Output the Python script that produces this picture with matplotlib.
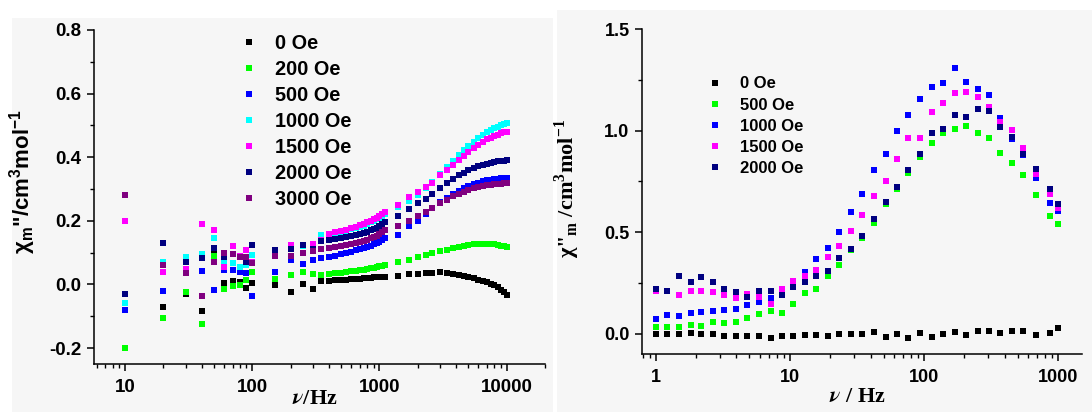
import numpy as np
import matplotlib
matplotlib.use('Agg')
import matplotlib.pyplot as plt
from matplotlib.patches import Rectangle
from matplotlib.lines import Line2D
from matplotlib.ticker import FixedLocator, FixedFormatter, LogLocator, MultipleLocator, FormatStrFormatter, NullFormatter

plt.rcParams['font.family'] = ['Liberation Sans', 'DejaVu Sans']
plt.rcParams['font.weight'] = 'bold'
plt.rcParams['axes.unicode_minus'] = False

# ---------------- Left panel data ----------------
freq_left = [10, 20, 30, 40, 50, 60, 70, 80, 90, 100,
             150, 200, 250, 300,
             350, 400, 450, 500, 550, 600, 650, 700, 750, 800, 850, 900, 950, 1000, 1050, 1100,
             1400, 1700, 2000, 2300, 2600, 3000, 3400, 3800, 4200, 4600, 5000, 5500, 6000, 6500,
             7000, 7500, 8000, 8500, 9000, 9500, 10000]

chi_0 = [-0.030, -0.072, -0.030, -0.082, 0.100, 0.006, 0.010, 0.007, -0.010, 0.004,
         -0.003, -0.025, 0.000, -0.015,
         0.010, 0.012, 0.013, 0.014, 0.015, 0.016, 0.017, 0.018, 0.019, 0.020, 0.021, 0.022, 0.022, 0.023, 0.024, 0.025,
         0.028, 0.032, 0.034, 0.036, 0.037, 0.038, 0.036, 0.034, 0.031, 0.028, 0.024, 0.020, 0.015, 0.011,
         0.007, 0.003, -0.003, -0.009, -0.016, -0.024, -0.032]
chi_200 = [-0.200, -0.104, -0.025, -0.125, 0.088, -0.013, -0.004, -0.003, 0.015, 0.040,
           0.016, 0.030, 0.040, 0.032,
           0.030, 0.033, 0.035, 0.037, 0.039, 0.041, 0.043, 0.045, 0.047, 0.049, 0.051, 0.053, 0.055, 0.057, 0.058, 0.060,
           0.070, 0.078, 0.085, 0.092, 0.098, 0.104, 0.109, 0.114, 0.118, 0.121, 0.124, 0.126, 0.128, 0.128,
           0.128, 0.127, 0.126, 0.124, 0.122, 0.120, 0.118]
chi_500 = [-0.080, -0.022, 0.050, 0.042, -0.016, 0.045, 0.045, 0.038, 0.035, -0.035,
           0.038, 0.078, 0.063, 0.076,
           0.082, 0.087, 0.091, 0.095, 0.099, 0.103, 0.107, 0.110, 0.114, 0.118, 0.122, 0.126, 0.130, 0.134, 0.139, 0.145,
           0.157, 0.183, 0.200, 0.222, 0.240, 0.258, 0.272, 0.284, 0.295, 0.303, 0.309, 0.315, 0.320, 0.324,
           0.327, 0.329, 0.331, 0.333, 0.334, 0.335, 0.336]
chi_1000 = [-0.057, 0.072, 0.085, 0.097, 0.145, 0.075, 0.066, 0.055, 0.060, 0.094,
            0.100, 0.120, 0.120, 0.125,
            0.157, 0.158, 0.161, 0.165, 0.169, 0.173, 0.177, 0.181, 0.185, 0.190, 0.195, 0.200, 0.205, 0.210, 0.216, 0.222,
            0.245, 0.262, 0.282, 0.302, 0.322, 0.347, 0.368, 0.388, 0.407, 0.422, 0.435, 0.449, 0.460, 0.470,
            0.478, 0.485, 0.491, 0.496, 0.500, 0.504, 0.507]
chi_1500 = [0.200, 0.040, 0.050, 0.190, 0.170, 0.056, 0.122, 0.090, 0.107, 0.070,
            0.105, 0.123, 0.125, 0.128,
            0.140, 0.160, 0.164, 0.168, 0.172, 0.177, 0.182, 0.186, 0.190, 0.195, 0.200, 0.205, 0.210, 0.215, 0.221, 0.227,
            0.250, 0.275, 0.290, 0.305, 0.320, 0.343, 0.360, 0.377, 0.392, 0.405, 0.417, 0.430, 0.440, 0.449,
            0.456, 0.462, 0.467, 0.471, 0.475, 0.478, 0.480]
chi_2000 = [-0.030, 0.130, 0.070, 0.082, 0.115, 0.085, 0.095, 0.085, 0.070, 0.123,
            0.108, 0.110, 0.123, 0.110,
            0.136, 0.139, 0.142, 0.145, 0.149, 0.152, 0.155, 0.158, 0.162, 0.166, 0.170, 0.174, 0.178, 0.183, 0.189, 0.195,
            0.216, 0.238, 0.255, 0.270, 0.285, 0.303, 0.318, 0.331, 0.343, 0.352, 0.360, 0.367, 0.372, 0.377,
            0.380, 0.383, 0.385, 0.387, 0.388, 0.389, 0.390]
chi_3000 = [0.280, 0.060, 0.035, -0.035, 0.070, 0.100, 0.097, 0.087, 0.086, 0.066,
            0.090, 0.090, 0.100, 0.105,
            0.113, 0.116, 0.119, 0.122, 0.125, 0.128, 0.131, 0.134, 0.137, 0.141, 0.145, 0.149, 0.153, 0.158, 0.164, 0.170,
            0.185, 0.200, 0.215, 0.228, 0.240, 0.255, 0.267, 0.277, 0.286, 0.292, 0.298, 0.303, 0.307, 0.310,
            0.312, 0.314, 0.315, 0.316, 0.317, 0.318, 0.318]

left_labels = ['0 Oe', '200 Oe', '500 Oe', '1000 Oe', '1500 Oe', '2000 Oe', '3000 Oe']
left_series = [chi_0, chi_200, chi_500, chi_1000, chi_1500, chi_2000, chi_3000]
left_colors = ['#000000', '#00ff00', '#0000ff', '#00ffff', '#ff00ff', '#000080', '#800080']
left_xticks = [10, 100, 1000, 10000]
left_xticklabels = ['10', '100', '1000', '10000']
left_yticks = [-0.2, 0.0, 0.2, 0.4, 0.6, 0.8]

# ---------------- Right panel data ----------------
freq_right = [1.0, 1.22, 1.48, 1.82, 2.19, 2.68, 3.24, 3.95, 4.83, 5.9, 7.18, 8.77,
              10.6, 12.9, 15.8, 19.3, 23.3, 28.5, 34.8, 42.4, 51.8, 63.2, 76.4, 93.3,
              114, 138, 170, 206, 252, 305, 372, 456, 551, 682, 871, 1000]

r_0 = [0.0, 0.0, -0.002, 0.003, -0.002, -0.002, -0.01, -0.01, -0.01, -0.01, -0.02, -0.01,
       -0.011, -0.007, -0.005, -0.009, 0.0, 0.0, 0.0, 0.007, -0.018, 0.0, -0.023, 0.003,
       -0.015, 0.0, 0.008, -0.005, 0.015, 0.015, 0.002, 0.015, 0.015, -0.008, 0.002, 0.028]
r_500 = [0.031, 0.031, 0.034, 0.044, 0.040, 0.056, 0.053, 0.059, 0.076, 0.097, 0.113, 0.104,
         0.146, 0.199, 0.220, 0.283, 0.340, 0.410, 0.470, 0.544, 0.640, 0.710, 0.790, 0.870,
         0.940, 0.986, 1.010, 1.022, 0.986, 0.964, 0.890, 0.838, 0.780, 0.685, 0.579, 0.541]
r_1000 = [0.072, 0.092, 0.085, 0.100, 0.108, 0.110, 0.117, 0.122, 0.142, 0.154, 0.174, 0.200,
          0.245, 0.306, 0.367, 0.423, 0.500, 0.600, 0.690, 0.805, 0.883, 0.999, 1.076, 1.155,
          1.213, 1.236, 1.306, 1.240, 1.203, 1.175, 1.060, 0.960, 0.880, 0.768, 0.645, 0.604]
r_1500 = [0.210, 0.210, 0.190, 0.212, 0.212, 0.204, 0.192, 0.176, 0.196, 0.179, 0.146, 0.220,
          0.257, 0.286, 0.314, 0.377, 0.431, 0.505, 0.582, 0.676, 0.750, 0.862, 0.961, 0.964,
          1.089, 1.134, 1.183, 1.188, 1.166, 1.114, 1.043, 1.005, 0.912, 0.788, 0.686, 0.620]
r_2000 = [0.220, 0.212, 0.286, 0.253, 0.278, 0.253, 0.220, 0.207, 0.179, 0.209, 0.212, 0.190,
          0.232, 0.253, 0.286, 0.311, 0.374, 0.418, 0.480, 0.566, 0.648, 0.722, 0.805, 0.883,
          0.990, 1.007, 1.076, 1.065, 1.106, 1.096, 1.018, 0.969, 0.887, 0.813, 0.714, 0.640]

right_labels = ['0 Oe', '500 Oe', '1000 Oe', '1500 Oe', '2000 Oe']
right_series = [r_0, r_500, r_1000, r_1500, r_2000]
right_colors = ['#000000', '#00ff00', '#0000ff', '#ff00ff', '#000080']
right_xticks = [1, 10, 100, 1000]
right_xticklabels = ['1', '10', '100', '1000']
right_yticks = [0.0, 0.5, 1.0, 1.5]

W, H = 1092, 412
fig = plt.figure(figsize=(W / 100, H / 100), dpi=100)
fig.patch.set_facecolor('white')

# light textured panel backgrounds
fig.add_artist(Rectangle((12 / W, 0), 541 / W, 394 / H, transform=fig.transFigure,
                         facecolor='#f6f6f6', edgecolor='none', zorder=-10))
fig.add_artist(Rectangle((557 / W, 0), 535 / W, 402 / H, transform=fig.transFigure,
                         facecolor='#f6f6f6', edgecolor='none', zorder=-10))


def px_axes(x0, x1, ytop, ybot):
    return fig.add_axes([x0 / W, (H - ybot) / H, (x1 - x0) / W, (ybot - ytop) / H])


def style_axes(ax, lw=1.1):
    ax.set_facecolor('none')
    for s in ['top', 'right']:
        ax.spines[s].set_visible(False)
    for s in ['left', 'bottom']:
        ax.spines[s].set_linewidth(lw)
        ax.spines[s].set_color('black')
    ax.tick_params(which='major', direction='out', length=5, width=lw, pad=4)
    ax.tick_params(which='minor', direction='out', length=3, width=lw * 0.9)


# ---------- Left axes ----------
axL = px_axes(94, 545, 30, 364)
style_axes(axL)
for vals, col in zip(left_series, left_colors):
    axL.plot(freq_left, vals, ls='none', marker='s', ms=5, mew=0, color=col)
axL.set_xscale('log')
axL.set_xlim(5.7, 20000)
axL.set_ylim(-0.25, 0.8)
axL.xaxis.set_major_locator(FixedLocator(left_xticks))
axL.xaxis.set_major_formatter(FixedFormatter(left_xticklabels))
axL.xaxis.set_minor_locator(LogLocator(base=10, subs=np.arange(2, 10)))
axL.xaxis.set_minor_formatter(NullFormatter())
axL.yaxis.set_major_locator(FixedLocator(left_yticks))
axL.yaxis.set_major_formatter(FormatStrFormatter('%.1f'))
axL.yaxis.set_minor_locator(MultipleLocator(0.1))
axL.tick_params(axis='both', which='major', labelsize=13.5)
axL.tick_params(axis='x', which='major', pad=6)
axL.set_ylabel("χ$_\\mathregular{m}$\"/cm$^\\mathregular{3}$mol$^\\mathregular{-1}$",
               fontsize=16, fontweight='bold')
axL.yaxis.set_label_coords(-0.125, 0.545)
axL.set_xlabel("$\\nu$/Hz", fontsize=16, fontweight='bold', family='Liberation Serif',
               math_fontfamily='stix')
axL.xaxis.set_label_coords(0.49, -0.075)

handlesL = [Line2D([], [], ls='none', marker='s', ms=5, mew=0, color=c) for c in left_colors]
axL.legend(handlesL, left_labels, loc='upper left', bbox_to_anchor=(0.327, 0.988),
           frameon=False, handlelength=0.8, handletextpad=0.9,
           labelspacing=0.35, borderpad=0, borderaxespad=0, prop={'weight': 'bold', 'size': 14.3})

# ---------- Right axes ----------
axR = px_axes(642, 1082, 29, 354)
style_axes(axR)
for vals, col in zip(right_series, right_colors):
    axR.plot(freq_right, vals, ls='none', marker='s', ms=5, mew=0, color=col)
axR.set_xscale('log')
axR.set_xlim(0.79, 1510)
axR.set_ylim(-0.1, 1.5)
axR.xaxis.set_major_locator(FixedLocator(right_xticks))
axR.xaxis.set_major_formatter(FixedFormatter(right_xticklabels))
axR.xaxis.set_minor_locator(LogLocator(base=10, subs=np.arange(2, 10)))
axR.xaxis.set_minor_formatter(NullFormatter())
axR.yaxis.set_major_locator(FixedLocator(right_yticks))
axR.yaxis.set_major_formatter(FormatStrFormatter('%.1f'))
axR.yaxis.set_minor_locator(MultipleLocator(0.25))
axR.tick_params(axis='both', which='major', labelsize=13)
axR.tick_params(axis='x', which='major', pad=6)
axR.set_ylabel("χ\"$_\\mathregular{m}$ /cm$^\\mathregular{3}$mol$^\\mathregular{-1}$",
               fontsize=16, fontweight='bold', family='Liberation Serif')
axR.yaxis.set_label_coords(-0.136, 0.51)
axR.set_xlabel("$\\nu$ / Hz", fontsize=16, fontweight='bold', family='Liberation Serif',
               math_fontfamily='stix')
axR.xaxis.set_label_coords(0.49, -0.10)

handlesR = [Line2D([], [], ls='none', marker='s', ms=5, mew=0, color=c) for c in right_colors]
axR.legend(handlesR, right_labels, loc='upper left', bbox_to_anchor=(0.151, 0.854),
           frameon=False, handlelength=0.8, handletextpad=1.1,
           labelspacing=0.37, borderpad=0, borderaxespad=0, prop={'weight': 'bold', 'size': 12})

fig.savefig('out.png', dpi=100)
